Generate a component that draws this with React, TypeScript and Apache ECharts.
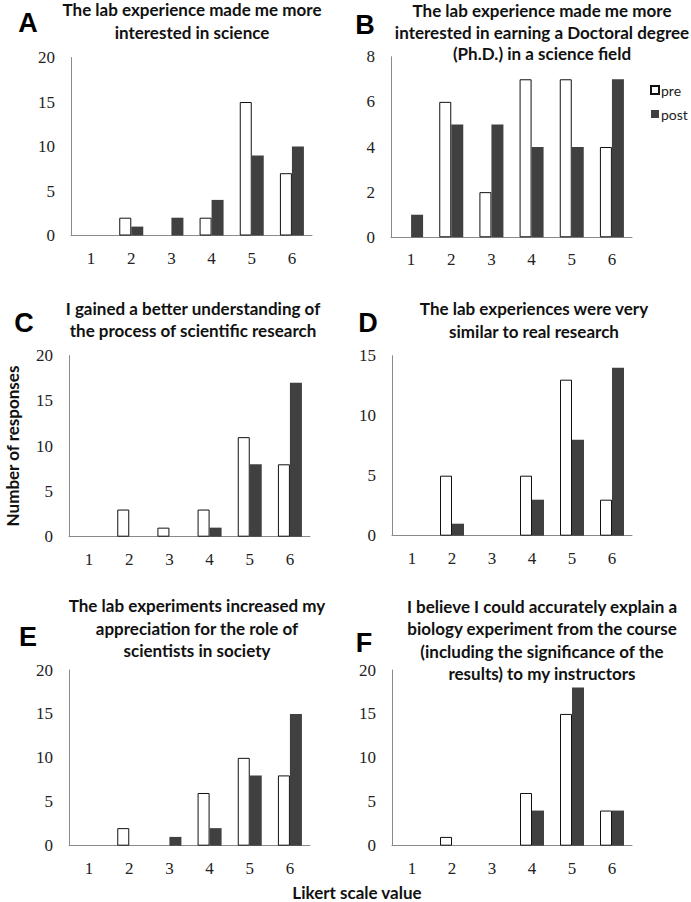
import React, { useEffect, useRef } from "react";
import * as echarts from "echarts";

const categories = ["1", "2", "3", "4", "5", "6"];

const preA = [0, 2, 0, 2, 15, 7];
const postA = [0, 1, 2, 4, 9, 10];
const preB = [0, 6, 2, 7, 7, 4];
const postB = [1, 5, 5, 4, 4, 7];
const preC = [0, 3, 1, 3, 11, 8];
const postC = [0, 0, 0, 1, 8, 17];
const preD = [0, 5, 0, 5, 13, 3];
const postD = [0, 1, 0, 3, 8, 14];
const preE = [0, 2, 0, 6, 10, 8];
const postE = [0, 0, 1, 2, 8, 15];
const preF = [0, 1, 0, 6, 15, 4];
const postF = [0, 0, 0, 4, 18, 4];

const yMax = [20, 8, 20, 15, 20, 20];
const yInterval = [5, 2, 5, 5, 5, 5];

const panelLetters = ["A", "B", "C", "D", "E", "F"];
const panelTitles = [
  "The lab experience made me more\ninterested in science",
  "The lab experience made me more\ninterested in earning a Doctoral degree\n(Ph.D.) in a science field",
  "I gained a better understanding of\nthe process of scientific research",
  "The lab experiences were very\nsimilar to real research",
  "The lab experiments increased my\nappreciation for the role of\nscientists in society",
  "I believe I could accurately explain a\nbiology experiment from the course\n(including the significance of the\nresults) to my instructors",
];

const preSeries = [preA, preB, preC, preD, preE, preF];
const postSeries = [postA, postB, postC, postD, postE, postF];

// layout
const grids = [
  { left: 71, top: 57.5, width: 241, height: 178 },
  { left: 391, top: 56.7, width: 241, height: 180.6 },
  { left: 69, top: 355.7, width: 241, height: 181 },
  { left: 392, top: 355.7, width: 240, height: 180 },
  { left: 69, top: 670, width: 241, height: 175.7 },
  { left: 392, top: 670, width: 240, height: 175.7 },
];
const titlePos = [
  [192, 21],
  [542, 32],
  [193, 319.5],
  [534, 320],
  [197, 628.2],
  [542, 640],
];
const titleLineHeight = [22.3, 21.8, 22.3, 22.3, 22.3, 22.1];
const letterPos = [
  [28, 23],
  [365, 25],
  [24, 323],
  [368, 323],
  [28, 637],
  [364, 643],
];

const SANS = "Lato, 'Open Sans', sans-serif";
const SERIF = "'Liberation Serif', 'DejaVu Serif', serif";

const nz = (arr: number[]) => arr.map((v) => (v === 0 ? null : v));

export default function App() {
  const ref = useRef<HTMLDivElement>(null);

  useEffect(() => {
    document.body.style.margin = "0";
    if (!ref.current) return;
    const chart = echarts.init(ref.current, undefined, { renderer: "svg" });

    const xAxis: any[] = [];
    const yAxis: any[] = [];
    const series: any[] = [];
    const graphic: any[] = [];

    grids.forEach((g, i) => {
      xAxis.push({
        type: "category",
        gridIndex: i,
        data: categories,
        axisLine: { lineStyle: { color: "#8a8a8a", width: 1 } },
        axisTick: { show: false },
        axisLabel: { fontFamily: SERIF, fontSize: 17, color: "#222", margin: 14 },
      });
      yAxis.push({
        type: "value",
        gridIndex: i,
        min: 0,
        max: yMax[i],
        interval: yInterval[i],
        splitLine: { show: false },
        axisLine: { show: true, lineStyle: { color: "#8a8a8a", width: 1 } },
        axisTick: { show: false },
        axisLabel: { fontFamily: SERIF, fontSize: 17, color: "#222", margin: 16 },
      });
      series.push({
        type: "bar",
        name: "pre",
        xAxisIndex: i,
        yAxisIndex: i,
        data: nz(preSeries[i]),
        barWidth: 12,
        barGap: "0%",
        itemStyle: { color: "#ffffff", borderColor: "#111", borderWidth: 1 },
      });
      series.push({
        type: "bar",
        name: "post",
        xAxisIndex: i,
        yAxisIndex: i,
        data: nz(postSeries[i]),
        barWidth: 12,
        barGap: "0%",
        itemStyle: { color: "#404040" },
      });
      graphic.push({
        type: "text",
        x: titlePos[i][0],
        y: titlePos[i][1],
        style: {
          text: panelTitles[i],
          textAlign: "center",
          textVerticalAlign: "middle",
          fontFamily: SANS,
          fontWeight: "bold",
          fontSize: 17,
          lineHeight: titleLineHeight[i],
          fill: "#111",
        },
      });
      graphic.push({
        type: "text",
        x: letterPos[i][0],
        y: letterPos[i][1],
        style: {
          text: panelLetters[i],
          textAlign: "center",
          textVerticalAlign: "middle",
          fontFamily: "'Liberation Sans', Arial, sans-serif",
          fontWeight: "bold",
          fontSize: 27,
          fill: "#000",
        },
      });
    });

    graphic.push({
      type: "text",
      x: 12,
      y: 446,
      rotation: Math.PI / 2,
      style: {
        text: "Number of responses",
        textAlign: "center",
        textVerticalAlign: "middle",
        fontFamily: SANS,
        fontWeight: "bold",
        fontSize: 17,
        fill: "#111",
      },
    });
    graphic.push({
      type: "text",
      x: 357,
      y: 892,
      style: {
        text: "Likert scale value",
        textAlign: "center",
        textVerticalAlign: "middle",
        fontFamily: SANS,
        fontWeight: "bold",
        fontSize: 17,
        fill: "#111",
      },
    });

    chart.setOption({
      animation: false,
      backgroundColor: "#ffffff",
      grid: grids.map((g) => ({ ...g, containLabel: false })),
      xAxis,
      yAxis,
      series,
      legend: {
        data: ["pre", "post"],
        orient: "vertical",
        left: 650,
        top: 83,
        padding: 0,
        itemWidth: 8,
        itemHeight: 8,
        itemGap: 10,
        icon: "rect",
        textStyle: { fontFamily: SANS, fontSize: 14, color: "#222", padding: [0, 0, 0, -3] },
      },
      graphic,
    });

    return () => chart.dispose();
  }, []);

  return <div ref={ref} style={{ width: 691, height: 902 }} />;
}
